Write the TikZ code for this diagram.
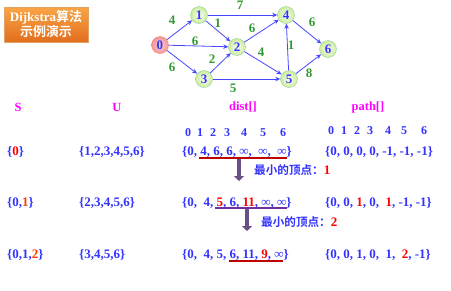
\documentclass[tikz,border=0pt]{standalone}
\usepackage{fontspec}
\setmainfont{Liberation Serif}
\newfontfamily\cjk{Noto Sans CJK SC}[BoldFont={Noto Sans CJK SC Bold}]
\usetikzlibrary{arrows.meta}

\definecolor{vblue}{RGB}{51,51,255}
\definecolor{wgreen}{RGB}{51,153,51}
\definecolor{hmag}{RGB}{255,0,255}
\definecolor{hred}{RGB}{255,0,0}
\definecolor{hora}{RGB}{255,60,0}
\definecolor{lred}{RGB}{192,0,0}
\definecolor{lpurple}{RGB}{112,48,160}

\begin{document}
\begin{tikzpicture}[x=1pt, y=-1pt, font=\bfseries,
	vtx/.style = {circle, draw=green!40!gray!60, inner sep=0pt, minimum size=17pt,
		inner color={rgb,255:red,248;green,253;blue,235}, outer color={rgb,255:red,205;green,236;blue,160},
		text=vblue, font=\fontsize{13}{13}\selectfont\bfseries},
	src/.style = {vtx, draw=red!50, inner color={rgb,255:red,252;green,205;blue,205}, outer color={rgb,255:red,240;green,150;blue,150}},
	edge/.style = {draw=vblue!90, line width=0.8pt, -{Stealth[length=5pt,width=4.5pt]}},
	wt/.style = {text=wgreen, inner sep=0pt, font=\fontsize{13}{13}\selectfont\bfseries},
	head/.style = {text=hmag, inner sep=0pt, font=\fontsize{12.5}{13}\selectfont\bfseries},
	idx/.style = {text=vblue, inner sep=0pt, font=\fontsize{12}{13}\selectfont\bfseries},
	row/.style = {text=vblue, inner sep=0pt, anchor=west, font=\fontsize{13}{13}\selectfont\bfseries},
	note/.style = {text=vblue, inner sep=0pt, anchor=west, font=\fontsize{11.6}{13}\selectfont\bfseries},
	nextstep/.style = {line width=4.5pt, draw={rgb,255:red,105;green,80;blue,135}, -{Triangle[length=5pt,width=10pt]}},
	]
	\useasboundingbox (0,0) rectangle (451,290);

	% title box
	\node (title) at (46,24.5) [draw=orange!80!black!60, top color={rgb,255:red,250;green,165;blue,70},
		bottom color={rgb,255:red,225;green,110;blue,30}, minimum width=84pt, minimum height=35pt,
		inner sep=1pt, align=center, text=white, font=\fontsize{13}{15}\selectfont\bfseries]
		{Dijkstra{\cjk 算法}\\{\cjk 示例演示}};

	% graph
	\node (v0) at (160,45)	[src]	{0};
	\node (v1) at (199,15)	[vtx]	{1};
	\node (v2) at (237,47)	[vtx]	{2};
	\node (v3) at (204,79)	[vtx]	{3};
	\node (v4) at (286,15)	[vtx]	{4};
	\node (v5) at (289,79)	[vtx]	{5};
	\node (v6) at (328,49)	[vtx]	{6};
	\draw[edge] (v0) -- (v1);
	\draw[edge] (v0) -- (v2);
	\draw[edge] (v0) -- (v3);
	\draw[edge] (v1) -- (v4);
	\draw[edge] (v1) -- (v2);
	\draw[edge] (v3) -- (v2);
	\draw[edge] (v2) -- (v4);
	\draw[edge] (v2) -- (v5);
	\draw[edge] (v3) -- (v5);
	\draw[edge] (v5) -- (v4);
	\draw[edge] (v4) -- (v6);
	\draw[edge] (v5) -- (v6);
	\node (w01) at (172,20)	[wt]	{4};
	\node (w14) at (240,5)	[wt]	{7};
	\node (w12) at (218,23)	[wt]	{1};
	\node (w02) at (195,41)	[wt]	{6};
	\node (w24) at (252,28)	[wt]	{6};
	\node (w46) at (312,22)	[wt]	{6};
	\node (w54) at (291,45)	[wt]	{1};
	\node (w25) at (261,52)	[wt]	{4};
	\node (w32) at (212,59)	[wt]	{2};
	\node (w03) at (172,67)	[wt]	{6};
	\node (w56) at (309,73)	[wt]	{8};
	\node (w35) at (233,88)	[wt]	{5};

	% column heads
	\node (hS) at (18,107)	[head]	{S};
	\node (hU) at (117,107)	[head]	{U};
	\node (hD) at (243,107)	[head]	{dist[]};
	\node (hP) at (368,107)	[head]	{path[]};
	\foreach \i/\x in {0/188,1/200,2/213,3/227,4/244,5/263,6/283}
		\node (d\i) at (\x,133) [idx] {\i};
	\foreach \i/\x in {0/331,1/344,2/357,3/370,4/388,5/404,6/424}
		\node (p\i) at (\x,131) [idx] {\i};

	% step 1
	\node (s1) at (7,152)	[row]	{\{{\color{hred}0}\}};
	\node (u1) at (79,152)	[row]	{\{1,2,3,4,5,6\}};
	\node (t1) at (182,152)	[row]	{\{0, 4, 6, 6, ∞,\ \ ∞,\ \ ∞\}};
	\node (q1) at (325,152)	[row]	{\{0, 0, 0, 0, -1, -1, -1\}};
	\draw[lred, line width=1.6pt] (199,158) -- (287,158);
	\coordinate (a1) at (239,159);
	\coordinate (b1) at (239,181);
	\draw[nextstep] (a1) -- (b1);
	\node (m1) at (254,170)	[note]	{{\cjk 最小的顶点：}\fontsize{13}{13}\selectfont\color{hred}1};

	% step 2
	\node (s2) at (7,203)	[row]	{\{0,{\color{hora}1}\}};
	\node (u2) at (79,203)	[row]	{\{2,3,4,5,6\}};
	\node (t2) at (182,203)	[row]	{\{0,\ \ 4, {\color{hred}5}, 6, {\color{hred}11}, ∞, ∞\}};
	\node (q2) at (325,203)	[row]	{\{0, 0, {\color{hred}1}, 0,\ \ {\color{hred}1}, -1, -1\}};
	\draw[lpurple, line width=1.6pt] (215,208) -- (287,208);
	\coordinate (a2) at (247,209);
	\coordinate (b2) at (247,231);
	\draw[nextstep] (a2) -- (b2);
	\node (m2) at (261,222)	[note]	{{\cjk 最小的顶点：}\fontsize{13}{13}\selectfont\color{hred}2};

	% step 3
	\node (s3) at (7,255)	[row]	{\{0,1,{\color{hora}2}\}};
	\node (u3) at (79,255)	[row]	{\{3,4,5,6\}};
	\node (t3) at (182,255)	[row]	{\{0,\ \ 4, 5, 6, 11, {\color{hred}9}, ∞\}};
	\node (q3) at (325,255)	[row]	{\{0, 0, 1, 0,\ \ 1,\ \ {\color{hred}2}, -1\}};
	\draw[lred, line width=1.6pt] (229,261) -- (283,261);
\end{tikzpicture}
\end{document}
